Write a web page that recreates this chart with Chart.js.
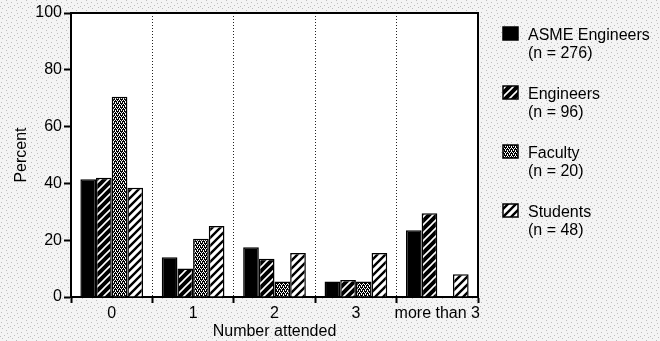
<!DOCTYPE html>
<html>
<head>
<meta charset="utf-8">
<script src="https://cdn.jsdelivr.net/npm/chart.js@4/dist/chart.umd.min.js"></script>
<style>
  html, body { margin: 0; padding: 0; background: #fff; }
  canvas { display: block; }
</style>
</head>
<body>
<canvas id="myChart" width="660" height="341"></canvas>
<script>
// Datos
const categorias = ['0', '1', '2', '3', 'more than 3'];
const grupos = ['ASME Engineers', 'Engineers', 'Faculty', 'Students'];
const tamanos = [276, 96, 20, 48];
const asme = [41.5, 14, 17.5, 5.5, 23.5];
const ingenieros = [42, 10, 13.5, 6, 29.5];
const facultad = [70.5, 20.5, 5.5, 5.5, 0];
const estudiantes = [38.5, 25, 15.5, 15.5, 8];
const ticksY = [0, 20, 40, 60, 80, 100];

const FUENTE = "'Liberation Sans', Helvetica, Arial, sans-serif";

// Patrones de relleno (rayas y punteado)
function rayas(fondo, linea, grosor) {
  const c = document.createElement('canvas');
  c.width = c.height = 8;
  const g = c.getContext('2d');
  g.fillStyle = fondo;
  g.fillRect(0, 0, 8, 8);
  g.strokeStyle = linea;
  g.lineWidth = grosor;
  g.beginPath();
  g.moveTo(-1, 9); g.lineTo(9, -1);
  g.moveTo(-2, 2); g.lineTo(2, -2);
  g.moveTo(6, 10); g.lineTo(10, 6);
  g.stroke();
  return g.createPattern(c, 'repeat');
}

function punteado() {
  const c = document.createElement('canvas');
  c.width = c.height = 4;
  const g = c.getContext('2d');
  g.fillStyle = '#000';
  g.fillRect(0, 0, 4, 4);
  g.fillStyle = '#fff';
  [[0, 0], [2, 0], [1, 2], [3, 2], [1, 1], [3, 3]].forEach(p => g.fillRect(p[0], p[1], 1, 1));
  return g.createPattern(c, 'repeat');
}

function fondoTrama(ctx) {
  const c = document.createElement('canvas');
  c.width = c.height = 10;
  const g = c.getContext('2d');
  g.fillStyle = '#f4f4f4';
  g.fillRect(0, 0, 10, 10);
  g.fillStyle = '#bdbdbd';
  [[1, 2], [6, 0], [4, 5], [8, 7], [2, 8], [7, 3], [0, 6]].forEach(p => g.fillRect(p[0], p[1], 1, 1));
  return ctx.createPattern(c, 'repeat');
}

const ctx = document.getElementById('myChart').getContext('2d');
const rellenos = ['#000', rayas('#000', '#fff', 1.6), punteado(), rayas('#fff', '#000', 2.4)];
const series = [asme, ingenieros, facultad, estudiantes];

// Fondo gris de trama y área blanca
const pluginFondo = {
  id: 'fondo',
  beforeDraw(chart) {
    const c = chart.ctx, a = chart.chartArea;
    c.save();
    c.fillStyle = fondoTrama(c);
    c.fillRect(0, 0, chart.width, chart.height);
    c.fillStyle = '#fff';
    c.fillRect(a.left, a.top, a.right - a.left, a.bottom - a.top);
    c.restore();
  },
  afterDatasetsDraw(chart) {
    const c = chart.ctx, a = chart.chartArea;
    c.save();
    c.strokeStyle = '#000';
    c.lineWidth = 2;
    c.beginPath();
    c.moveTo(a.left, a.top);
    c.lineTo(a.right, a.top);
    c.lineTo(a.right, a.bottom);
    c.stroke();
    c.restore();
  }
};

// Leyenda dibujada a la derecha
const pluginLeyenda = {
  id: 'leyendaDerecha',
  afterDraw(chart) {
    const c = chart.ctx, a = chart.chartArea;
    const x = a.right + 25;
    c.save();
    c.font = '16px ' + FUENTE;
    c.textBaseline = 'alphabetic';
    c.fillStyle = '#000';
    chart.data.datasets.forEach((ds, i) => {
      const y = 27 + i * 59;
      c.fillStyle = ds.backgroundColor;
      c.fillRect(x, y, 15, 13);
      c.strokeStyle = '#000';
      c.lineWidth = 1.5;
      c.strokeRect(x, y, 15, 13);
      c.fillStyle = '#000';
      c.fillText(ds.label, x + 25, y + 13);
      c.fillText('(n = ' + tamanos[i] + ')', x + 25, y + 31);
    });
    c.restore();
  }
};

new Chart(ctx, {
  type: 'bar',
  data: {
    labels: categorias,
    datasets: grupos.map((g, i) => ({
      label: g,
      data: series[i],
      backgroundColor: rellenos[i],
      borderColor: '#000',
      borderWidth: 1.5,
      categoryPercentage: 0.77,
      barPercentage: 1.0
    }))
  },
  options: {
    responsive: false,
    animation: false,
    layout: { padding: { top: 13, right: 182, left: 0, bottom: 0 } },
    plugins: {
      legend: { display: false },
      tooltip: { enabled: false }
    },
    scales: {
      x: {
        grid: {
          offset: true,
          color: '#222',
          lineWidth: 1,
          drawTicks: true,
          tickLength: 6,
          tickWidth: 2,
          tickColor: '#000'
        },
        border: { color: '#000', width: 2, dash: [1, 2] },
        ticks: { color: '#000', font: { family: FUENTE, size: 16 }, padding: 1, maxRotation: 0, autoSkip: false },
        title: { display: true, text: 'Number attended', color: '#000', font: { family: FUENTE, size: 16 }, padding: 0 },
        afterFit(s) { s.height = 44; }
      },
      y: {
        min: 0,
        max: 100,
        afterBuildTicks(s) { s.ticks = ticksY.map(v => ({ value: v })); },
        grid: {
          drawOnChartArea: false,
          drawTicks: true,
          tickLength: 7,
          tickWidth: 2,
          color: '#000'
        },
        border: { color: '#000', width: 2 },
        ticks: { color: '#000', font: { family: FUENTE, size: 16 }, padding: 2 },
        title: { display: true, text: 'Percent', color: '#000', font: { family: FUENTE, size: 16 }, padding: { top: 12, bottom: 0 } },
        afterFit(s) { s.width = 71; }
      }
    }
  },
  plugins: [pluginFondo, pluginLeyenda]
});
</script>
</body>
</html>
